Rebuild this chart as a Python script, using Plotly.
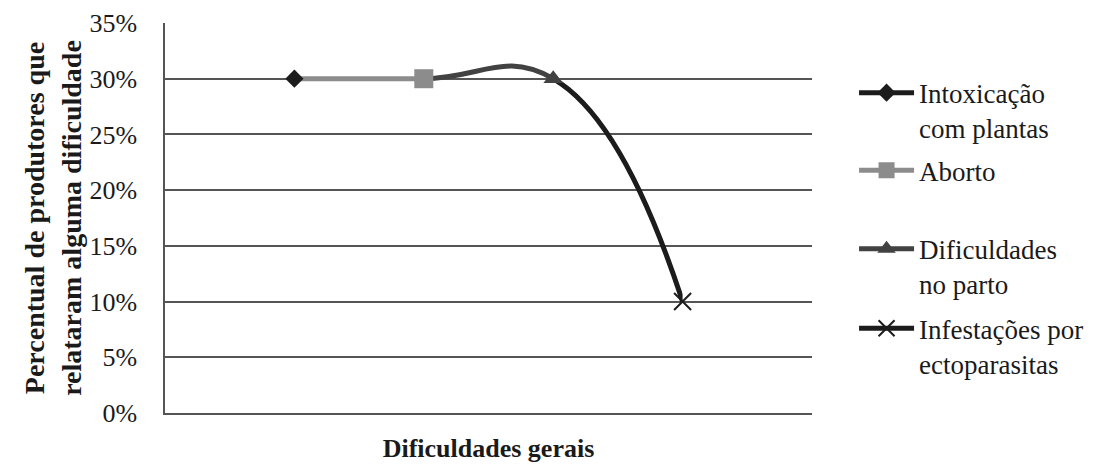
import plotly.graph_objects as go

# ---- data ----
categories = ["Intoxicação com plantas", "Aborto", "Dificuldades no parto", "Infestações por ectoparasitas"]
legend_labels = ["Intoxicação<br>com plantas", "Aborto", "Dificuldades<br>no parto", "Infestações por<br>ectoparasitas"]
values = [30, 30, 30, 10]
x_pos = [1, 2, 3, 4]
y_ticks = [0, 5, 10, 15, 20, 25, 30, 35]
y_tick_labels = ["0%", "5%", "10%", "15%", "20%", "25%", "30%", "35%"]

# ---- style ----
colors = ["#1c1c1c", "#8c8c8c", "#424242", "#1c1c1c"]
symbols = ["diamond", "square", "triangle-up", "x-thin"]
sizes = [14, 19, 17, 17]
FONT = "Liberation Serif"
XMAX = 5
LW = 5

fig = go.Figure()

# empty trace so the main (grid/axis) subplot exists
fig.add_trace(go.Scatter(x=[], y=[], mode="markers", xaxis="x", yaxis="y",
                         showlegend=False, hoverinfo="skip"))

# smoothed line, each segment coloured after the point it leads to
seg_axes = ["x2", "x3", "x4"]
for i, ax in enumerate(seg_axes):
    fig.add_trace(go.Scatter(
        x=x_pos, y=values, mode="lines", xaxis=ax, yaxis="y2",
        line=dict(color=colors[i + 1], width=LW, shape="spline", smoothing=1.3),
        showlegend=False, hoverinfo="skip", cliponaxis=True,
    ))

legend_ids = ["legend", "legend2", "legend3", "legend4"]
for i in range(len(categories)):
    mk = dict(symbol=symbols[i], size=sizes[i], color=colors[i])
    if symbols[i] == "x-thin":
        mk["line"] = dict(color=colors[i], width=2)
    fig.add_trace(go.Scatter(
        x=[x_pos[i]], y=[values[i]], mode="lines+markers", xaxis="x5", yaxis="y2",
        name=legend_labels[i], marker=mk,
        line=dict(color=colors[i], width=LW),
        legend=legend_ids[i],
    ))

# layout (page has an 8px body margin, so the figure is sized/placed to compensate)
layout = dict(
    width=1086, height=458,
    margin=dict(l=157, r=282, t=15, b=53, autoexpand=False),
    paper_bgcolor="white", plot_bgcolor="rgba(0,0,0,0)",
    font=dict(family=FONT, color="#1a1a1a", size=26),
    xaxis=dict(range=[0, XMAX], domain=[0, 1], showticklabels=False, ticks="",
               showgrid=False, zeroline=False, showline=True, linecolor="#555555", linewidth=1.5,
               automargin=False, anchor="y",
               title=dict(text="<b>Dificuldades gerais</b>", font=dict(size=26, family=FONT), standoff=25)),
    yaxis=dict(range=[0, 35], tickvals=y_ticks, ticktext=y_tick_labels, ticks="",
               ticklabelstandoff=21, tickfont=dict(size=26, family=FONT),
               showgrid=True, gridcolor="#555555", gridwidth=1.5, zeroline=False,
               showline=True, linecolor="#555555", linewidth=1.5, automargin=False, anchor="x",
               title=dict(text="<b>Percentual de produtores que<br>relataram alguma dificuldade</b>",
                          font=dict(size=28, family=FONT), standoff=0)),
    yaxis2=dict(range=[0, 35], domain=[0, 1], visible=False, showgrid=False, zeroline=False, anchor="x5"),
)
for k, ax in enumerate(seg_axes):
    lo = x_pos[k]
    hi = x_pos[k + 1]
    layout["xaxis" + ax[1:]] = dict(range=[lo, hi], domain=[lo / XMAX, hi / XMAX], visible=False,
                                    showgrid=False, zeroline=False, anchor="y2")
layout["xaxis5"] = dict(range=[0, XMAX], domain=[0, 1], visible=False, showgrid=False,
                        zeroline=False, anchor="y2")

leg_y = [0.883, 0.684, 0.483, 0.279]
for i, lid in enumerate(legend_ids):
    layout[lid] = dict(x=1.065, y=leg_y[i], xanchor="left", yanchor="top", valign="top",
                       itemwidth=55, bgcolor="rgba(0,0,0,0)",
                       font=dict(size=27, family=FONT, color="#1a1a1a"))

fig.update_layout(**layout)
fig.write_html("out.html")
